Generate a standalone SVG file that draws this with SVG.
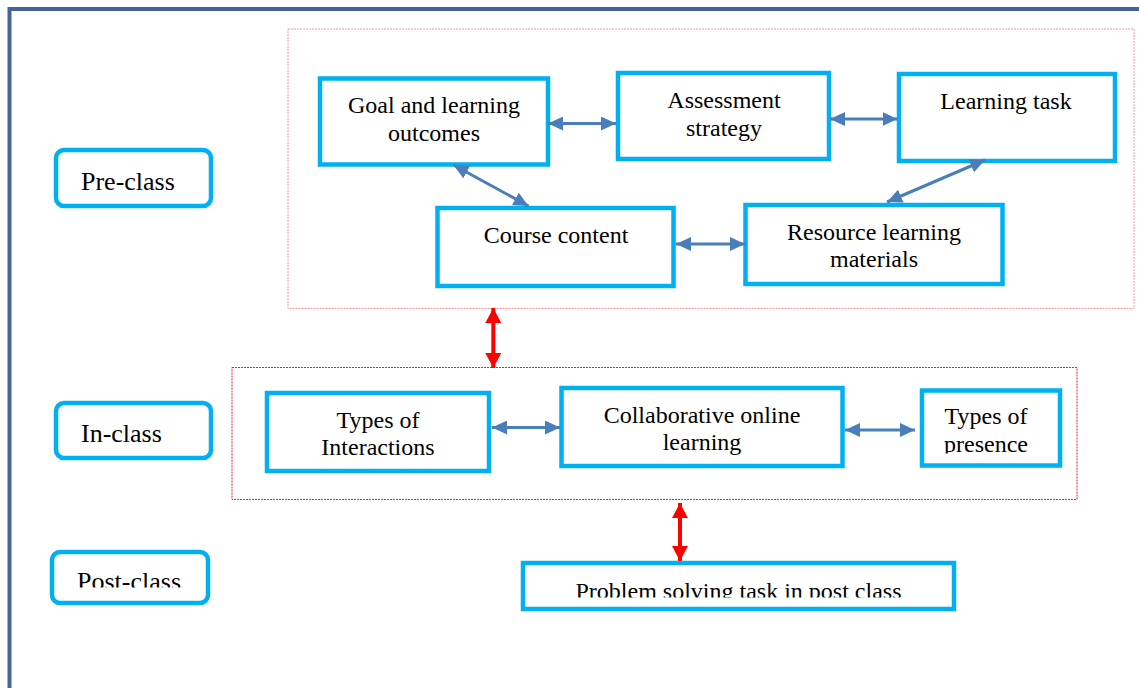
<svg xmlns="http://www.w3.org/2000/svg" width="1139" height="688" viewBox="0 0 1139 688">
<style>
.node{fill:#fff;stroke:#00b0f0;stroke-width:4.5}
.t{font-family:"Liberation Serif","Times New Roman",serif;font-size:24px;fill:#000;text-anchor:middle}
.lab{font-family:"Liberation Serif","Times New Roman",serif;font-size:26px;fill:#000}
.blue{stroke:#4a7ebb;stroke-width:3;fill:none;marker-start:url(#ab);marker-end:url(#ab)}
.red{stroke:#ff0000;stroke-width:4;fill:none;marker-start:url(#ar);marker-end:url(#ar)}
</style>
<defs>
<marker id="ab" markerUnits="userSpaceOnUse" markerWidth="16" markerHeight="14" refX="15" refY="7" orient="auto-start-reverse"><path d="M0,0 L15,7 L0,14 z" fill="#4a7ebb"/></marker>
<marker id="ar" markerUnits="userSpaceOnUse" markerWidth="16" markerHeight="16" refX="15" refY="8" orient="auto-start-reverse"><path d="M0,0 L15,8 L0,16 z" fill="#ff0000"/></marker>
<clipPath id="cPost"><rect x="0" y="0" width="300" height="587.5"/></clipPath>
<clipPath id="cProb"><rect x="0" y="0" width="1139" height="597.5"/></clipPath>
<clipPath id="cPres"><rect x="0" y="0" width="1139" height="453.5"/></clipPath>
</defs>
<rect x="0" y="0" width="1139" height="688" fill="#fff"/>
<rect x="9.5" y="9" width="1160" height="700" fill="none" stroke="#436591" stroke-width="4"/>

<g id="groups">
<rect id="preGroup" x="288" y="29" width="846" height="279.5" fill="none" stroke="#f39a9a" stroke-width="1" stroke-dasharray="2,1"/>
<rect id="inGroup" x="232" y="367.5" width="845" height="132" fill="none" stroke="#ee2222" stroke-width="1" stroke-dasharray="2,1"/>
</g>

<g id="preclass"><rect class="node" x="56" y="150" width="155" height="56" rx="8"/><text class="lab" x="81" y="190">Pre-class</text></g>
<g id="inclass"><rect class="node" x="56" y="403" width="155" height="55" rx="8"/><text class="lab" x="81" y="442">In-class</text></g>
<g id="postclass"><rect class="node" x="52" y="552" width="156" height="51" rx="8"/><text class="lab" x="77" y="590" clip-path="url(#cPost)">Post-class</text></g>

<g id="goal"><rect class="node" x="320" y="78.5" width="228" height="86"/><text class="t" x="434" y="113">Goal and learning</text><text class="t" x="434" y="141">outcomes</text></g>
<g id="assessment"><rect class="node" x="618" y="73" width="211" height="86"/><text class="t" x="724" y="108">Assessment</text><text class="t" x="724" y="136">strategy</text></g>
<g id="task"><rect class="node" x="899" y="74" width="216" height="87"/><text class="t" x="1006" y="109">Learning task</text></g>
<g id="course"><rect class="node" x="437.5" y="208" width="236" height="78"/><text class="t" x="556" y="243">Course content</text></g>
<g id="resource"><rect class="node" x="745.5" y="205" width="257" height="79"/><text class="t" x="874" y="240">Resource learning</text><text class="t" x="874" y="267">materials</text></g>

<g id="interactions"><rect class="node" x="267" y="393" width="222" height="78"/><text class="t" x="378" y="428">Types of</text><text class="t" x="378" y="455">Interactions</text></g>
<g id="collab"><rect class="node" x="561.5" y="388" width="281" height="78"/><text class="t" x="702" y="423">Collaborative online</text><text class="t" x="702" y="450">learning</text></g>
<g id="presence"><rect class="node" x="922" y="390.5" width="138" height="75"/><text class="t" x="986" y="424">Types of</text><text class="t" x="986" y="451.5" clip-path="url(#cPres)">presence</text></g>
<g id="problem"><rect class="node" x="523" y="563" width="431" height="46"/><text class="t" x="738.5" y="598.5" clip-path="url(#cProb)">Problem solving task in post class</text></g>

<g id="connectors">
<line class="blue" x1="548" y1="123.5" x2="616" y2="123.5"/>
<line class="blue" x1="830" y1="119" x2="897.5" y2="119"/>
<line class="blue" x1="453.5" y1="165" x2="528.5" y2="206"/>
<line class="blue" x1="676" y1="244" x2="745" y2="244"/>
<line class="blue" x1="985" y1="160" x2="887" y2="202"/>
<line class="blue" x1="492" y1="427.5" x2="560" y2="427.5"/>
<line class="blue" x1="845" y1="430" x2="915" y2="430"/>
<line class="red" x1="493.3" y1="308" x2="493.3" y2="368"/>
<line class="red" x1="680" y1="503" x2="680" y2="561"/>
</g>
</svg>
